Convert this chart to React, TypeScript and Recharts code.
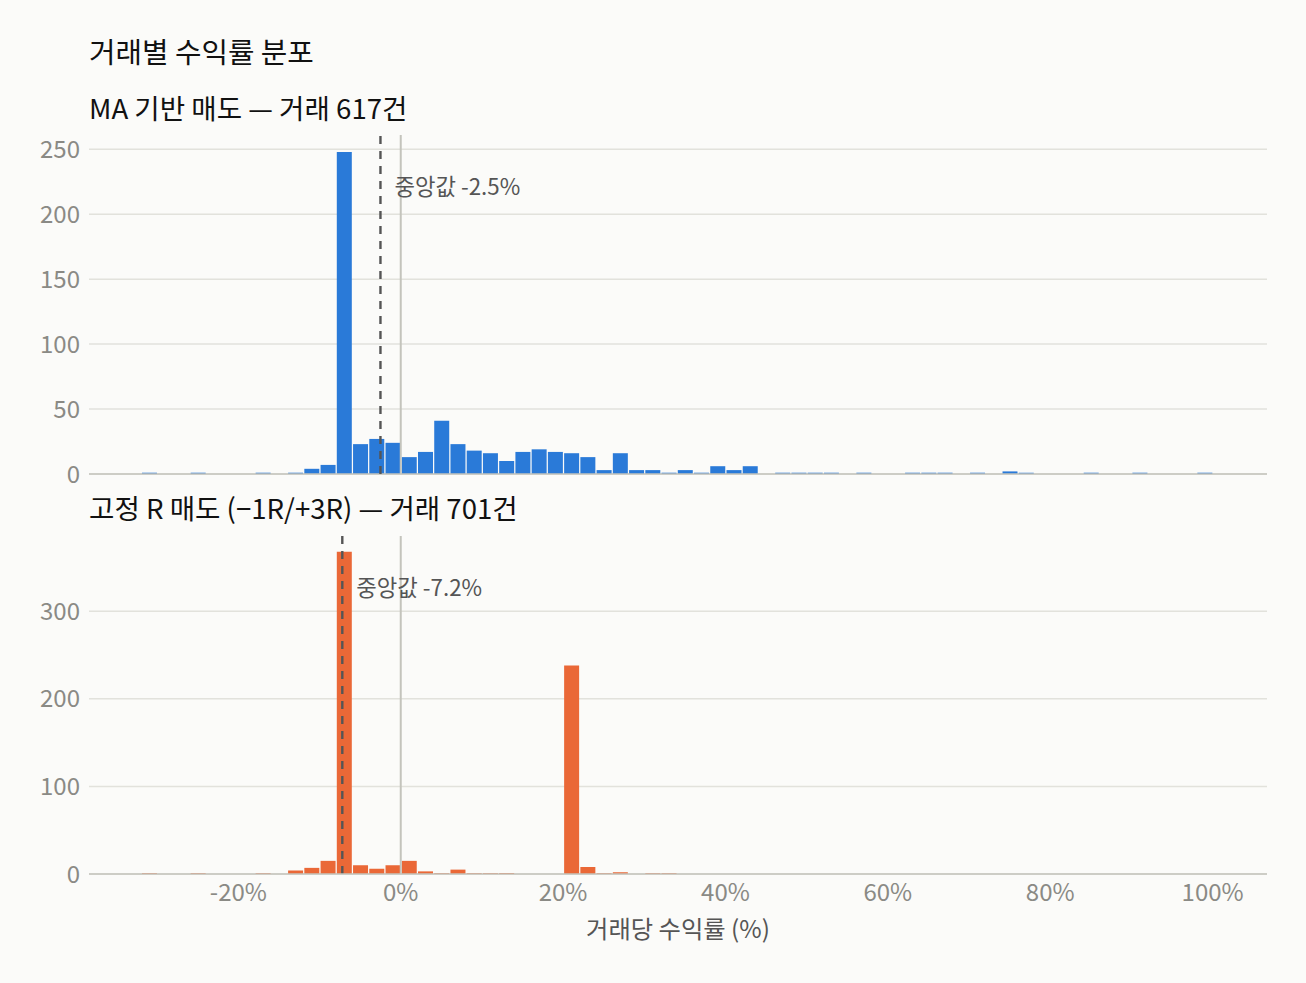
import React from "react";
import { BarChart, Bar, XAxis, YAxis, CartesianGrid, ReferenceLine } from "recharts";

// left edge of each 2% bin (%)
const binLeft = [
  -32, -30, -28, -26, -24, -22, -20, -18, -16, -14, -12, -10, -8, -6, -4, -2,
  0, 2, 4, 6, 8, 10, 12, 14, 16, 18, 20, 22, 24, 26, 28, 30,
  32, 34, 36, 38, 40, 42, 44, 46, 48, 50, 52, 54, 56, 58, 60, 62,
  64, 66, 68, 70, 72, 74, 76, 78, 80, 82, 84, 86, 88, 90, 92, 94,
  96, 98,
];

// MA 기반 매도 (617건)
const maCounts = [
  1, 0, 0, 1, 0, 0, 0, 1, 0, 1, 4, 7, 248, 23, 27, 24,
  13, 17, 41, 23, 18, 16, 10, 17, 19, 17, 16, 13, 3, 16, 3, 3,
  1, 3, 1, 6, 3, 6, 0, 1, 1, 1, 1, 0, 1, 0, 0, 1,
  1, 1, 0, 1, 0, 2, 1, 0, 0, 0, 1, 0, 0, 1, 0, 0,
  0, 1,
];

// 고정 R 매도 (701건)
const fixedRCounts = [
  1, 0, 0, 1, 0, 0, 0, 1, 0, 4, 7, 15, 368, 10, 6, 10,
  15, 3, 1, 5, 1, 1, 1, 0, 0, 0, 238, 8, 1, 2, 0, 1,
  1, 0, 0, 0, 0, 0, 0, 0, 0, 0, 0, 0, 0, 0, 0, 0,
  0, 0, 0, 0, 0, 0, 0, 0, 0, 0, 0, 0, 0, 0, 0, 0,
  0, 0,
];

const xTicks = [-20, 0, 20, 40, 60, 80, 100];
const maTicks = [0, 50, 100, 150, 200, 250];
const fixedTicks = [0, 100, 200, 300];
const maMedian = -2.5;
const fixedMedian = -7.2;

const maData = binLeft.map((b, i) => ({ x: b + 1, n: maCounts[i] }));
const fixedData = binLeft.map((b, i) => ({ x: b + 1, n: fixedRCounts[i] }));

const FONT = "'Noto Sans CJK KR', 'Noto Sans', sans-serif";
const BG = "#fbfbf9";
const GRID = "#e2e2dc";
const AXIS = "#c4c4bc";
const TICK = { fill: "#8a8a85", fontSize: 24, fontFamily: FONT };
const X_DOMAIN: [number, number] = [-38.4, 106.7];

const medianLabel = (text: string) => (props: any) => {
  const { viewBox } = props;
  return (
    <text x={viewBox.x + 14} y={viewBox.y + 54} fill="#555" fontSize={22.3} fontFamily={FONT} dominantBaseline="middle">
      {text}
    </text>
  );
};

export default function App() {
  return (
    <div style={{ position: "fixed", left: 0, top: 0, width: 1306, height: 983, background: BG, fontFamily: FONT }}>
      <div style={{ position: "absolute", left: 89, top: 33, fontSize: 28.8, color: "#111", lineHeight: "36px" }}>
        거래별 수익률 분포
      </div>
      <div style={{ position: "absolute", left: 89, top: 89, fontSize: 27.6, color: "#111", lineHeight: "36px" }}>
        MA 기반 매도 — 거래 617건
      </div>
      <div style={{ position: "absolute", left: 89, top: 489, fontSize: 27.6, color: "#111", lineHeight: "36px" }}>
        고정 R 매도 (−1R/+3R) — 거래 701건
      </div>

      <div style={{ position: "absolute", left: 0, top: 0 }}>
        <BarChart width={1306} height={500} data={maData} margin={{ top: 135, right: 39, left: 0, bottom: 26 }}>
          <CartesianGrid vertical={false} stroke={GRID} strokeWidth={1.5} syncWithTicks />
          <XAxis type="number" dataKey="x" domain={X_DOMAIN} ticks={xTicks} allowDataOverflow hide />
          <YAxis
            domain={[0, 261]}
            ticks={maTicks}
            interval={0}
            width={89}
            axisLine={false}
            tickLine={false}
            tickSize={0}
            tickMargin={9}
            tick={TICK}
          />
          <ReferenceLine y={0} stroke={AXIS} strokeWidth={1.6} />
          <Bar dataKey="n" fill="#2a7ad8" barSize={15} isAnimationActive={false} />
          <ReferenceLine x={0} stroke={AXIS} strokeWidth={2} />
          <ReferenceLine
            x={maMedian}
            stroke="#555"
            strokeWidth={2.4}
            strokeDasharray="8 7"
            label={medianLabel("중앙값 -2.5%")}
          />
        </BarChart>
      </div>

      <div style={{ position: "absolute", left: 0, top: 500 }}>
        <BarChart width={1306} height={483} data={fixedData} margin={{ top: 36, right: 39, left: 0, bottom: 0 }}>
          <CartesianGrid vertical={false} stroke={GRID} strokeWidth={1.5} syncWithTicks />
          <XAxis
            type="number"
            dataKey="x"
            domain={X_DOMAIN}
            ticks={xTicks}
            interval={0}
            allowDataOverflow
            height={109}
            stroke={AXIS}
            axisLine={{ stroke: AXIS, strokeWidth: 1.6 }}
            tickLine={false}
            tickSize={0}
            tickMargin={10}
            tickFormatter={(v: number) => `${v}%`}
            tick={TICK}
            label={{ value: "거래당 수익률 (%)", position: "insideBottom", offset: 45, fill: "#555", fontSize: 24.3, fontFamily: FONT }}
          />
          <YAxis
            domain={[0, 386]}
            ticks={fixedTicks}
            interval={0}
            width={89}
            axisLine={false}
            tickLine={false}
            tickSize={0}
            tickMargin={9}
            tick={TICK}
          />
          <Bar dataKey="n" fill="#ea6837" barSize={15} isAnimationActive={false} />
          <ReferenceLine x={0} stroke={AXIS} strokeWidth={2} />
          <ReferenceLine
            x={fixedMedian}
            stroke="#555"
            strokeWidth={2.4}
            strokeDasharray="8 7"
            label={medianLabel("중앙값 -7.2%")}
          />
        </BarChart>
      </div>
    </div>
  );
}
